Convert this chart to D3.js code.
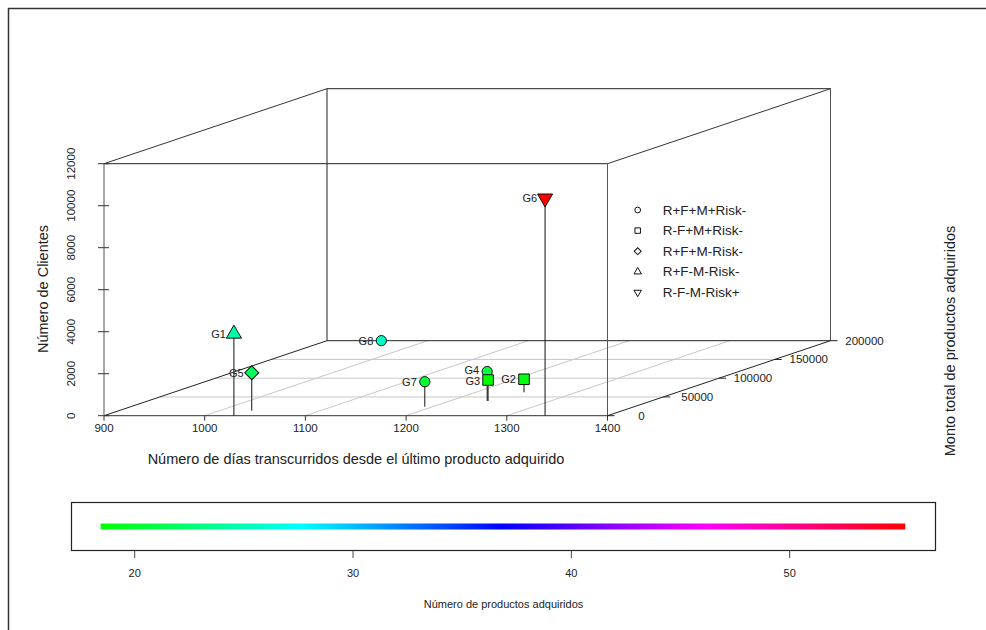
<!DOCTYPE html>
<html>
<head>
<meta charset="utf-8">
<script src="https://cdn.jsdelivr.net/npm/d3@7"></script>
<style>
  body { margin: 0; background: #fff; }
  svg text { font-family: "Liberation Sans", Arial, sans-serif; fill: #222; }
</style>
</head>
<body>
<svg id="chart" width="986" height="630"></svg>
<script>
// data
var grupos    = ["G1", "G2", "G3", "G4", "G5", "G6", "G7", "G8"];
var dias      = [1029, 1248, 1238, 1237, 1032, 1338, 1192, 965];
var clientes  = [3900, 620, 1000, 1400, 1810, 10350, 1190, 180];
var monto     = [0, 62400, 39200, 39300, 13300, 0, 24000, 190000];
var productos = [24.4, 19.0, 18.44, 20.9, 21.7, 55.29, 20.3, 25.4];
var segmento  = ["R+F-M-Risk-", "R-F+M+Risk-", "R-F+M+Risk-", "R+F+M+Risk-",
                 "R+F+M-Risk-", "R-F-M-Risk+", "R+F+M+Risk-", "R+F+M+Risk-"];

var legendLabels = ["R+F+M+Risk-", "R-F+M+Risk-", "R+F+M-Risk-", "R+F-M-Risk-", "R-F-M-Risk+"];
var legendShapes = ["circle", "square", "diamond", "up", "down"];

var xTicks = [900, 1000, 1100, 1200, 1300, 1400];
var yTicks = [0, 2000, 4000, 6000, 8000, 10000, 12000];
var zTicks = [0, 50000, 100000, 150000, 200000];
var cTicks = [20, 30, 40, 50];
var cRange = [18.44, 55.29];

var svg = d3.select("#chart");

// projection of the box
var ox = 104, oy = 415.7;      // front-bottom-left corner
var depthX = 223, depthY = 75; // offset of the back face

var xs = d3.scaleLinear().domain([900, 1400]).range([0, 503.5]);
var ys = d3.scaleLinear().domain([0, 12000]).range([0, 252]);
var zs = d3.scaleLinear().domain([0, 200000]).range([0, 1]);

function px(x, y, z) { return ox + xs(x) + zs(z) * depthX; }
function py(x, y, z) { return oy - ys(y) - zs(z) * depthY; }

var hue = d3.scaleLinear().domain(cRange).range([120, 360]);
function colorOf(v) { return d3.hsl(hue(v), 1, 0.5).toString(); }

var shapeOf = {
  "R+F+M+Risk-": "circle",
  "R-F+M+Risk-": "square",
  "R+F+M-Risk-": "diamond",
  "R+F-M-Risk-": "up",
  "R-F-M-Risk+": "down"
};

function symbolPath(shape, size) {
  if (shape == "circle") return d3.symbol(d3.symbolCircle, size)();
  if (shape == "square" || shape == "diamond") return d3.symbol(d3.symbolSquare, size)();
  return d3.symbol(d3.symbolTriangle, size)();
}
function symbolRotate(shape) {
  if (shape == "diamond") return 45;
  if (shape == "down") return 180;
  return 0;
}

// outer frame
svg.append("path")
  .attr("d", "M8.5,630 L8.5,8.5 L986,8.5")
  .style("fill", "none").style("stroke", "#333").style("stroke-width", 1.5);

// floor grid
var g = svg.append("g");
zTicks.slice(1, -1).forEach(function(z) {
  g.append("line")
    .attr("x1", px(900, 0, z)).attr("y1", py(900, 0, z))
    .attr("x2", px(1400, 0, z)).attr("y2", py(1400, 0, z))
    .style("stroke", "#c8c8c8");
});
xTicks.slice(1, -1).forEach(function(x) {
  g.append("line")
    .attr("x1", px(x, 0, 0)).attr("y1", py(x, 0, 0))
    .attr("x2", px(x, 0, 200000)).attr("y2", py(x, 0, 200000))
    .style("stroke", "#c8c8c8");
});

// box edges
var edges = [
  [[900, 0, 200000], [1400, 0, 200000], "#222"],
  [[900, 0, 200000], [900, 12000, 200000], "#222"],
  [[1400, 0, 200000], [1400, 12000, 200000], "#555"],
  [[900, 12000, 200000], [1400, 12000, 200000], "#222"],
  [[900, 12000, 0], [900, 12000, 200000], "#333"],
  [[1400, 12000, 0], [1400, 12000, 200000], "#333"],
  [[900, 0, 0], [900, 0, 200000], "#222"],
  [[1400, 0, 0], [1400, 0, 200000], "#222"],
  [[900, 12000, 0], [1400, 12000, 0], "#222"],
  [[1400, 0, 0], [1400, 12000, 0], "#555"],
  [[900, 0, 0], [900, 12000, 0], "#555"],
  [[900, 0, 0], [1400, 0, 0], "#333"]
];
edges.forEach(function(e) {
  g.append("line")
    .attr("x1", px.apply(null, e[0])).attr("y1", py.apply(null, e[0]))
    .attr("x2", px.apply(null, e[1])).attr("y2", py.apply(null, e[1]))
    .style("stroke", e[2]).style("stroke-width", 1);
});

// vertical axis (clientes)
yTicks.forEach(function(t) {
  var y = py(900, t, 0);
  g.append("line").attr("x1", ox - 6).attr("x2", ox + 5).attr("y1", y).attr("y2", y)
    .style("stroke", "#333");
  g.append("text")
    .attr("transform", "translate(71," + y + ") rotate(-90)")
    .attr("text-anchor", "middle").attr("dominant-baseline", "central")
    .style("font-size", "11.5px").text(t);
});
svg.append("text")
  .attr("transform", "translate(43,289) rotate(-90)")
  .attr("text-anchor", "middle").attr("dominant-baseline", "central")
  .style("font-size", "14.5px").text("Número de Clientes");

// x axis (dias)
xTicks.forEach(function(t) {
  var x = px(t, 0, 0);
  g.append("line").attr("x1", x).attr("x2", x).attr("y1", oy).attr("y2", oy + 5)
    .style("stroke", "#333");
  g.append("text")
    .attr("x", x).attr("y", 428)
    .attr("text-anchor", "middle").attr("dominant-baseline", "central")
    .style("font-size", "11.5px").text(t);
});
svg.append("text")
  .attr("x", 356).attr("y", 459)
  .attr("text-anchor", "middle").attr("dominant-baseline", "central")
  .style("font-size", "14.5px")
  .text("Número de días transcurridos desde el último producto adquirido");

// depth axis (monto)
zTicks.forEach(function(t) {
  var x = px(1400, 0, t), y = py(1400, 0, t);
  g.append("line").attr("x1", x).attr("x2", x + 7).attr("y1", y).attr("y2", y)
    .style("stroke", "#222");
  g.append("text")
    .attr("x", x + 34).attr("y", y)
    .attr("text-anchor", "middle").attr("dominant-baseline", "central")
    .style("font-size", "11.5px").text(t);
});
svg.append("text")
  .attr("transform", "translate(950,341) rotate(-90)")
  .attr("text-anchor", "middle").attr("dominant-baseline", "central")
  .style("font-size", "14.5px").text("Monto total de productos adquiridos");

// points, drawn back to front
var order = d3.range(grupos.length).sort(function(a, b) { return monto[b] - monto[a]; });
order.forEach(function(i) {
  var shape = shapeOf[segmento[i]];
  var x = px(dias[i], clientes[i], monto[i]);
  var y = py(dias[i], clientes[i], monto[i]);
  var yb = py(dias[i], 0, monto[i]);
  g.append("line").attr("x1", x).attr("x2", x).attr("y1", y).attr("y2", yb)
    .style("stroke", "#111");
  var size = shape == "circle" ? 82 : shape == "square" ? 112 : 98;
  g.append("path")
    .attr("d", symbolPath(shape, size))
    .attr("transform", "translate(" + x + "," + y + ") rotate(" + symbolRotate(shape) + ")")
    .style("fill", colorOf(productos[i]))
    .style("stroke", "#111").style("stroke-width", 1);
  // G4 and G3 sit almost on top of each other: nudge their labels apart a little
  var nudge = grupos[i] == "G4" ? -1.5 : grupos[i] == "G3" ? 1 : 0;
  g.append("text")
    .attr("x", x - 8).attr("y", y + nudge)
    .attr("text-anchor", "end").attr("dominant-baseline", "central")
    .style("font-size", "11px").text(grupos[i]);
});

// legend
legendLabels.forEach(function(lab, i) {
  var y = 210 + i * 20.6;
  var shape = legendShapes[i];
  svg.append("path")
    .attr("d", symbolPath(shape, shape == "circle" ? 26 : shape == "square" ? 30 : 24))
    .attr("transform", "translate(637.7," + y + ") rotate(" + symbolRotate(shape) + ")")
    .style("fill", "none").style("stroke", "#111").style("stroke-width", 1);
  svg.append("text")
    .attr("x", 662.7).attr("y", y)
    .attr("dominant-baseline", "central")
    .style("font-size", "13.5px").text(lab);
});

// colour bar
var cs = d3.scaleLinear().domain([20, 50]).range([134.7, 789.7]);
var grad = svg.append("defs").append("linearGradient").attr("id", "rainbow")
  .attr("x1", "0%").attr("x2", "100%");
d3.range(0, 1.0001, 0.05).forEach(function(f) {
  var v = cRange[0] + f * (cRange[1] - cRange[0]);
  grad.append("stop").attr("offset", (f * 100) + "%").attr("stop-color", colorOf(v));
});
svg.append("rect")
  .attr("x", 71.5).attr("y", 502.5).attr("width", 864).attr("height", 48)
  .style("fill", "none").style("stroke", "#222").style("stroke-width", 1.2);
svg.append("rect")
  .attr("x", cs(cRange[0])).attr("y", 523.5)
  .attr("width", cs(cRange[1]) - cs(cRange[0])).attr("height", 6)
  .style("fill", "url(#rainbow)");
cTicks.forEach(function(t) {
  svg.append("line").attr("x1", cs(t)).attr("x2", cs(t)).attr("y1", 550.5).attr("y2", 558)
    .style("stroke", "#444");
  svg.append("text")
    .attr("x", cs(t)).attr("y", 573)
    .attr("text-anchor", "middle").attr("dominant-baseline", "central")
    .style("font-size", "11px").text(t);
});
svg.append("text")
  .attr("x", 503.5).attr("y", 604)
  .attr("text-anchor", "middle").attr("dominant-baseline", "central")
  .style("font-size", "11px").text("Número de productos adquiridos");
</script>
</body>
</html>
